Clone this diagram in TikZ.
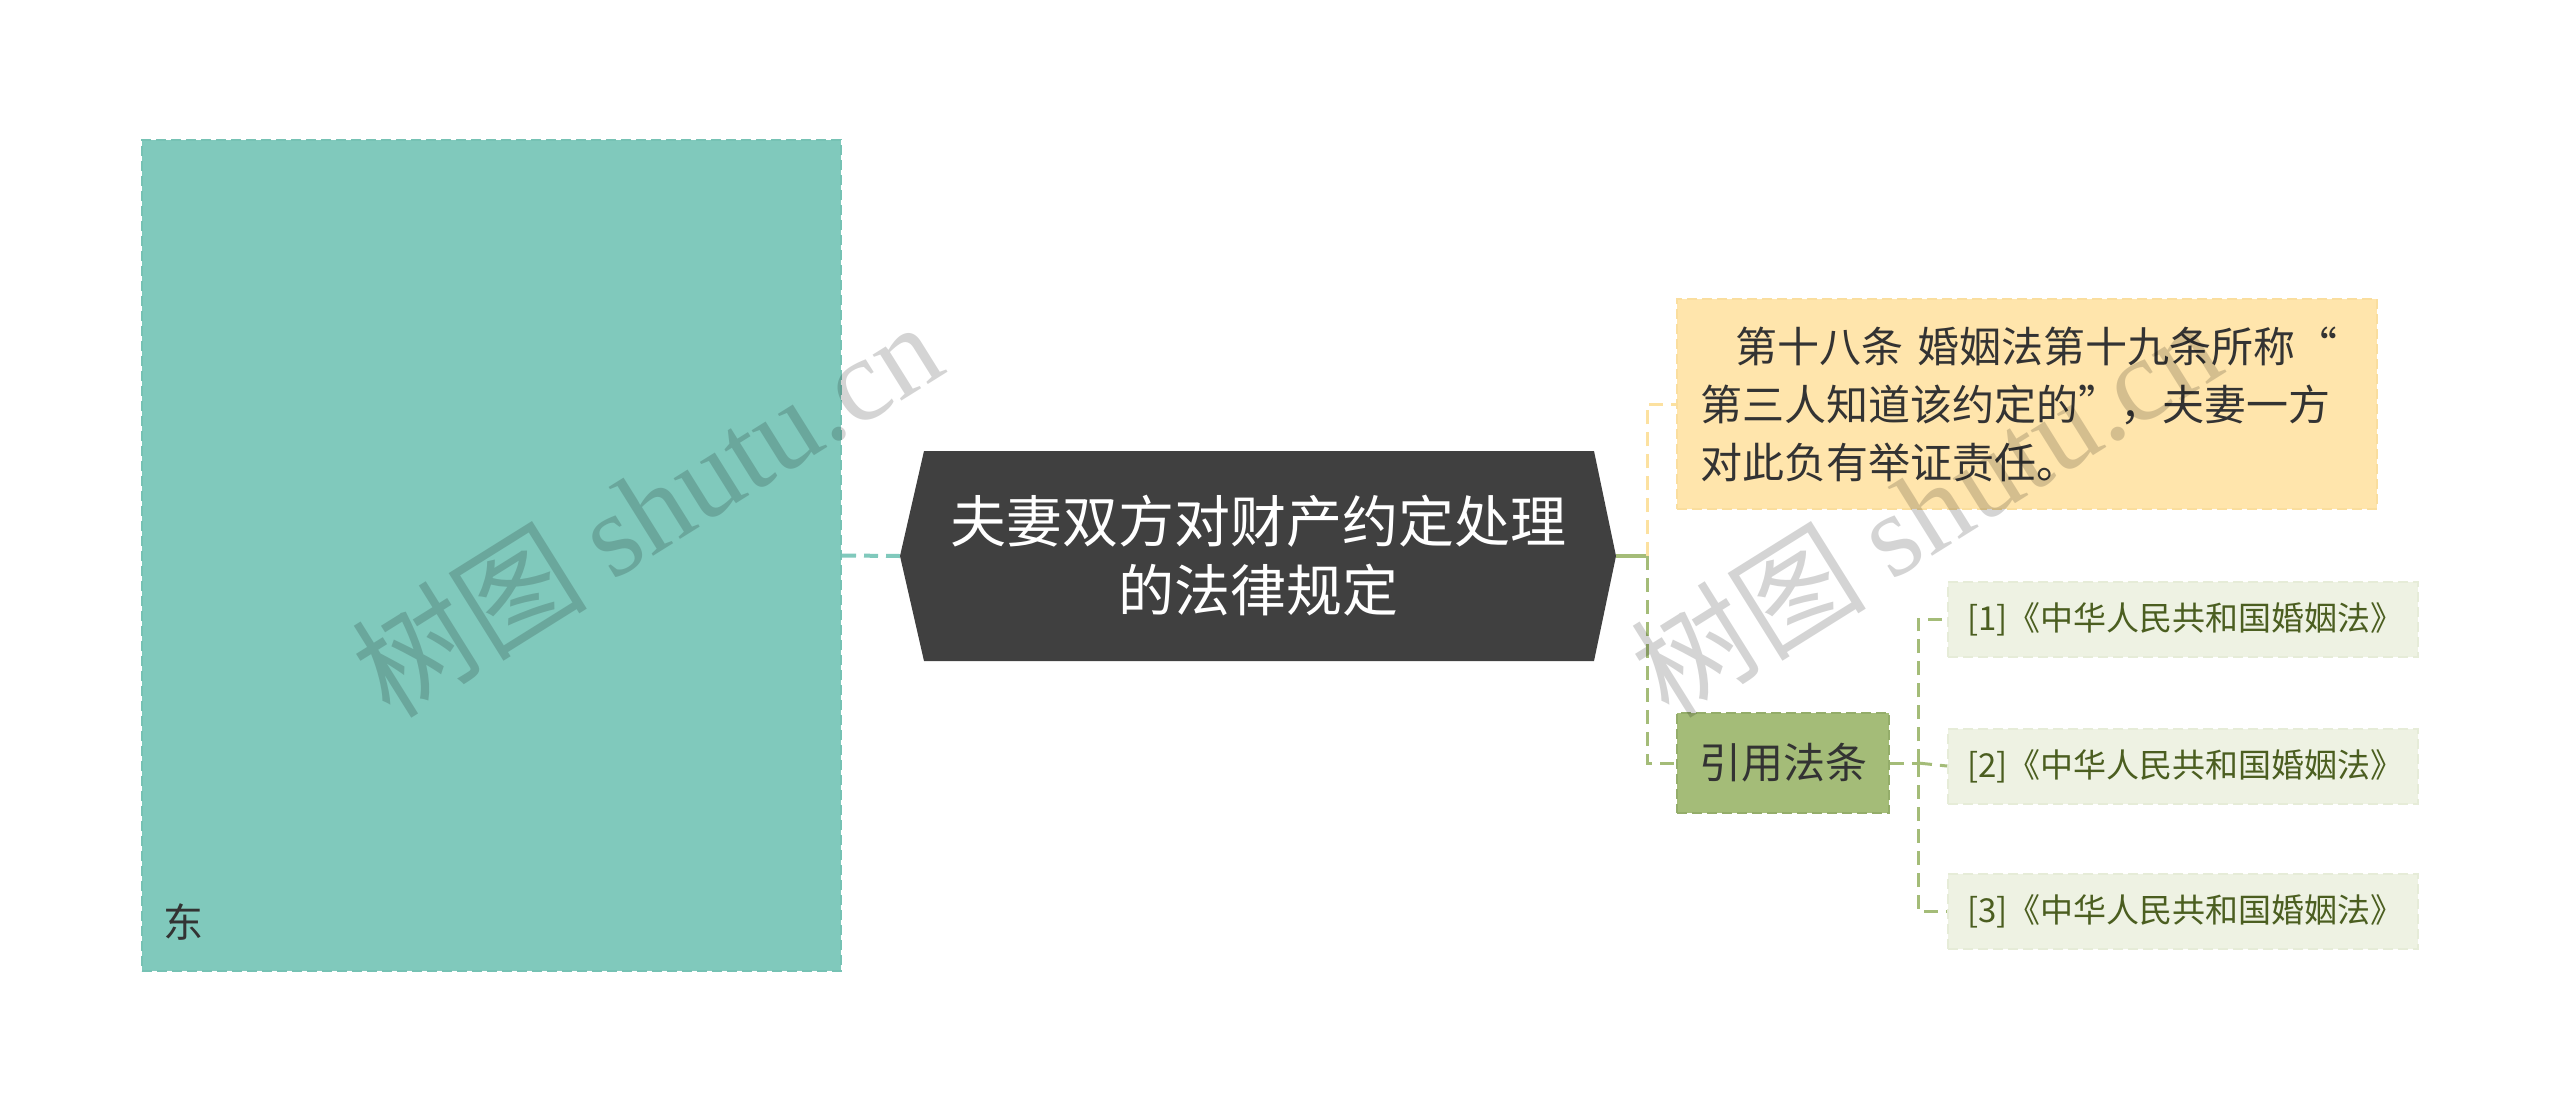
\documentclass[tikz,border=0pt]{standalone}
\usepackage{fontspec}
\setmainfont{Noto Sans CJK SC}
\newfontfamily\wmserif{Liberation Serif}
\usetikzlibrary{calc}
\definecolor{tealF}{HTML}{80C9BC}
\definecolor{tealB}{HTML}{76C2B4}
\definecolor{hexc}{HTML}{404040}
\definecolor{yelF}{HTML}{FFE5AC}
\definecolor{yelB}{HTML}{FADE9E}
\definecolor{yelL}{HTML}{FCE1A0}
\definecolor{grnF}{HTML}{A4BC78}
\definecolor{grnB}{HTML}{94AD6A}
\definecolor{leafF}{HTML}{EEF2E3}
\definecolor{leafB}{HTML}{E6ECD8}
\definecolor{leafT}{HTML}{4B5E20}
\definecolor{txt}{HTML}{333333}
\tikzset{
  boxdash/.style={dash pattern=on 10pt off 5pt, line width=2pt},
  sidebox/.style={fill=tealF, draw=tealB, boxdash, minimum width=699pt, minimum height=831pt, inner sep=0pt},
  rootbox/.style={minimum width=716pt, minimum height=210pt, inner sep=0pt, text=white, align=center, font=\fontsize{56}{69}\selectfont},
  ybox/.style={fill=yelF, draw=yelB, boxdash, minimum height=210pt, text width=654pt, inner xsep=23pt, inner ysep=0pt, align=left, text=txt, font=\fontsize{42}{58}\selectfont},
  gbox/.style={fill=grnF, draw=grnB, boxdash, minimum width=212pt, minimum height=100pt, inner sep=0pt, text=txt, font=\fontsize{42}{50}\selectfont},
  leafbox/.style={fill=leafF, draw=leafB, boxdash, minimum height=75pt, text width=432pt, inner xsep=19pt, inner ysep=0pt, align=left, text=leafT, font=\fontsize{33}{40}\selectfont},
  conn/.style={dash pattern=on 14pt off 8pt, line width=4pt},
  wmark/.style={rotate=32, text=black, text opacity=0.17, font=\fontsize{118}{124}\selectfont}
}
\begin{document}
\begin{tikzpicture}[x=1pt,y=-1pt]
\useasboundingbox (0,0) rectangle (2560,1114);
\fill[white] (0,0) rectangle (2560,1114);

% left big box
\node[sidebox] (side) at (491.5,555.5) {};
\node[text=txt, font=\fontsize{40}{44}\selectfont, inner sep=0pt] (dong) at (183,922) {东};

% root hexagon
\fill[hexc] (900,556) -- (924,451) -- (1594,451) -- (1616,556) -- (1594,661) -- (924,661) -- cycle;
\node[rootbox] (root) at (1258,556) {夫妻双方对财产约定处理\\的法律规定};

% right nodes
\node[ybox] (yb) at (2027,404) {\hspace*{0.85em}第十八条 婚姻法第十九条所称“\\第三人知道该约定的”，夫妻一方\\对此负有举证责任。};
\node[gbox] (gb) at (1783,763) {引用法条};
\node[leafbox] (l1) at (2183,619) {[1]《中华人民共和国婚姻法》};
\node[leafbox] (l2) at (2183,766) {[2]《中华人民共和国婚姻法》};
\node[leafbox] (l3) at (2183,911) {[3]《中华人民共和国婚姻法》};

% connectors
\draw[conn, draw=tealF] (side.east) -- (root.west);
\coordinate (j1) at (1647,556);
\coordinate (j2) at (1918,763);
\draw[line width=4pt, draw=grnF] (root.east) -- (j1);
\draw[conn, line width=3pt, draw=yelL] (j1) |- (yb.west);
\draw[conn, line width=3pt, draw=grnF] (j1) |- (gb.west);
\draw[conn, line width=3pt, draw=grnF] (gb.east) -- (j2);
\draw[conn, line width=3pt, draw=grnF] (j2) |- (l1.west);
\draw[conn, line width=3pt, draw=grnF] (j2) -- (l2.west);
\draw[conn, line width=3pt, draw=grnF] (j2) |- (l3.west);

% watermarks
\node[wmark] (wm1) at (646,508) {树图 {\wmserif shutu.cn}};
\node[wmark] (wm2) at (1925,508) {树图 {\wmserif shutu.cn}};
\end{tikzpicture}
\end{document}
